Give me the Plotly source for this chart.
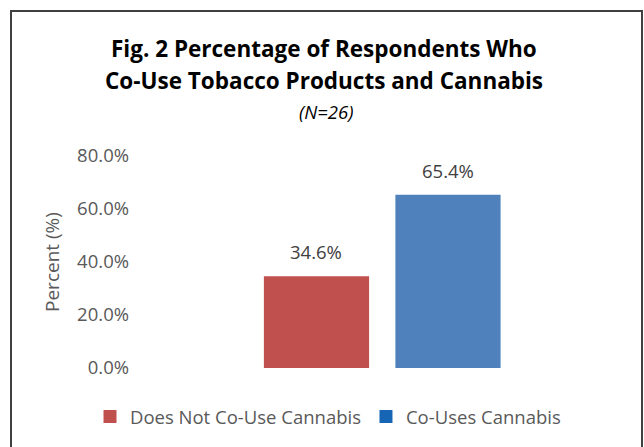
import plotly.graph_objects as go

# ---- data ----
categories = ["Does Not Co-Use Cannabis", "Co-Uses Cannabis"]
percent_values = [34.6, 65.4]
bar_colors = ["#C0504D", "#4F81BD"]
legend_colors = ["#C0504D", "#1666B5"]
y_ticks = [0, 20, 40, 60, 80]
y_tick_labels = ["0.0%", "20.0%", "40.0%", "60.0%", "80.0%"]
title_lines = ["Fig. 2 Percentage of Respondents Who", "Co-Use Tobacco Products and Cannabis"]
subtitle = "(N=26)"
y_title = "Percent (%)"

# ---- layout geometry (pixels) ----
W, H = 644, 447
PL, PR, PT, PB = 140, 625, 156, 368
FONT = "Open Sans"
LABEL_SIZE = 18.5


def px_x(p):
    return (p - PL) / (PR - PL)


def px_y(p):
    return (PB - p) / (PB - PT)


fig = go.Figure()
for cat, val, col in zip(categories, percent_values, bar_colors):
    fig.add_trace(go.Bar(x=[cat], y=[val], marker=dict(color=col, line=dict(width=0)),
                         name=cat, showlegend=False, hoverinfo="y"))
for cat, col in zip(categories, legend_colors):
    fig.add_trace(go.Scatter(x=[None], y=[None], mode="markers", name=cat,
                             marker=dict(symbol="square", size=13, color=col)))

annotations = []
for cat, val in zip(categories, percent_values):
    annotations.append(dict(x=cat, y=val, xref="x", yref="y", text=f"{val:.1f}%",
                            showarrow=False, yanchor="bottom", yshift=10,
                            font=dict(family=FONT, size=LABEL_SIZE, color="#404040")))
annotations.append(dict(x=px_x(323.5), y=px_y(48.5), xref="paper", yref="paper",
                        text=f"<b>{title_lines[0]}</b>", showarrow=False, yanchor="middle",
                        font=dict(family=FONT, size=22.5, color="#000000")))
annotations.append(dict(x=px_x(323.5), y=px_y(81), xref="paper", yref="paper",
                        text=f"<b>{title_lines[1]}</b>", showarrow=False, yanchor="middle",
                        font=dict(family=FONT, size=22.5, color="#000000")))
annotations.append(dict(x=px_x(326), y=px_y(111.5), xref="paper", yref="paper",
                        text=f"<i>{subtitle}</i>", showarrow=False, yanchor="middle",
                        font=dict(family=FONT, size=18.5, color="#000000")))

fig.update_layout(
    width=W, height=H,
    margin=dict(l=PL, r=W - PR, t=PT, b=H - PB, autoexpand=False),
    paper_bgcolor="white", plot_bgcolor="white",
    barmode="group", bargap=0.2,
    font=dict(family=FONT, size=LABEL_SIZE, color="#595959"),
    annotations=annotations,
    shapes=[dict(type="rect", xref="paper", yref="paper",
                 x0=px_x(11), x1=px_x(642), y0=px_y(480), y1=px_y(11),
                 line=dict(color="#404040", width=2), fillcolor="rgba(0,0,0,0)", layer="below")],
    legend=dict(orientation="h", x=px_x(90), xanchor="left", y=px_y(417), yanchor="middle",
                font=dict(family=FONT, size=LABEL_SIZE, color="#595959"), itemwidth=30,
                bgcolor="rgba(0,0,0,0)"),
    xaxis=dict(type="category", range=[-1.342, 2.346], showticklabels=False,
               showgrid=False, zeroline=False, showline=False, ticks=""),
    yaxis=dict(range=[0, 80], tickvals=y_ticks, ticktext=y_tick_labels,
               showgrid=False, zeroline=False, showline=False, ticks="",
               ticklabelstandoff=10,
               tickfont=dict(family=FONT, size=LABEL_SIZE, color="#595959"),
               title=dict(text=y_title, standoff=12,
                          font=dict(family=FONT, size=19, color="#595959"))),
)

fig.write_html("out.html", config={"displayModeBar": False},
               post_script="document.body.style.margin='0';")
